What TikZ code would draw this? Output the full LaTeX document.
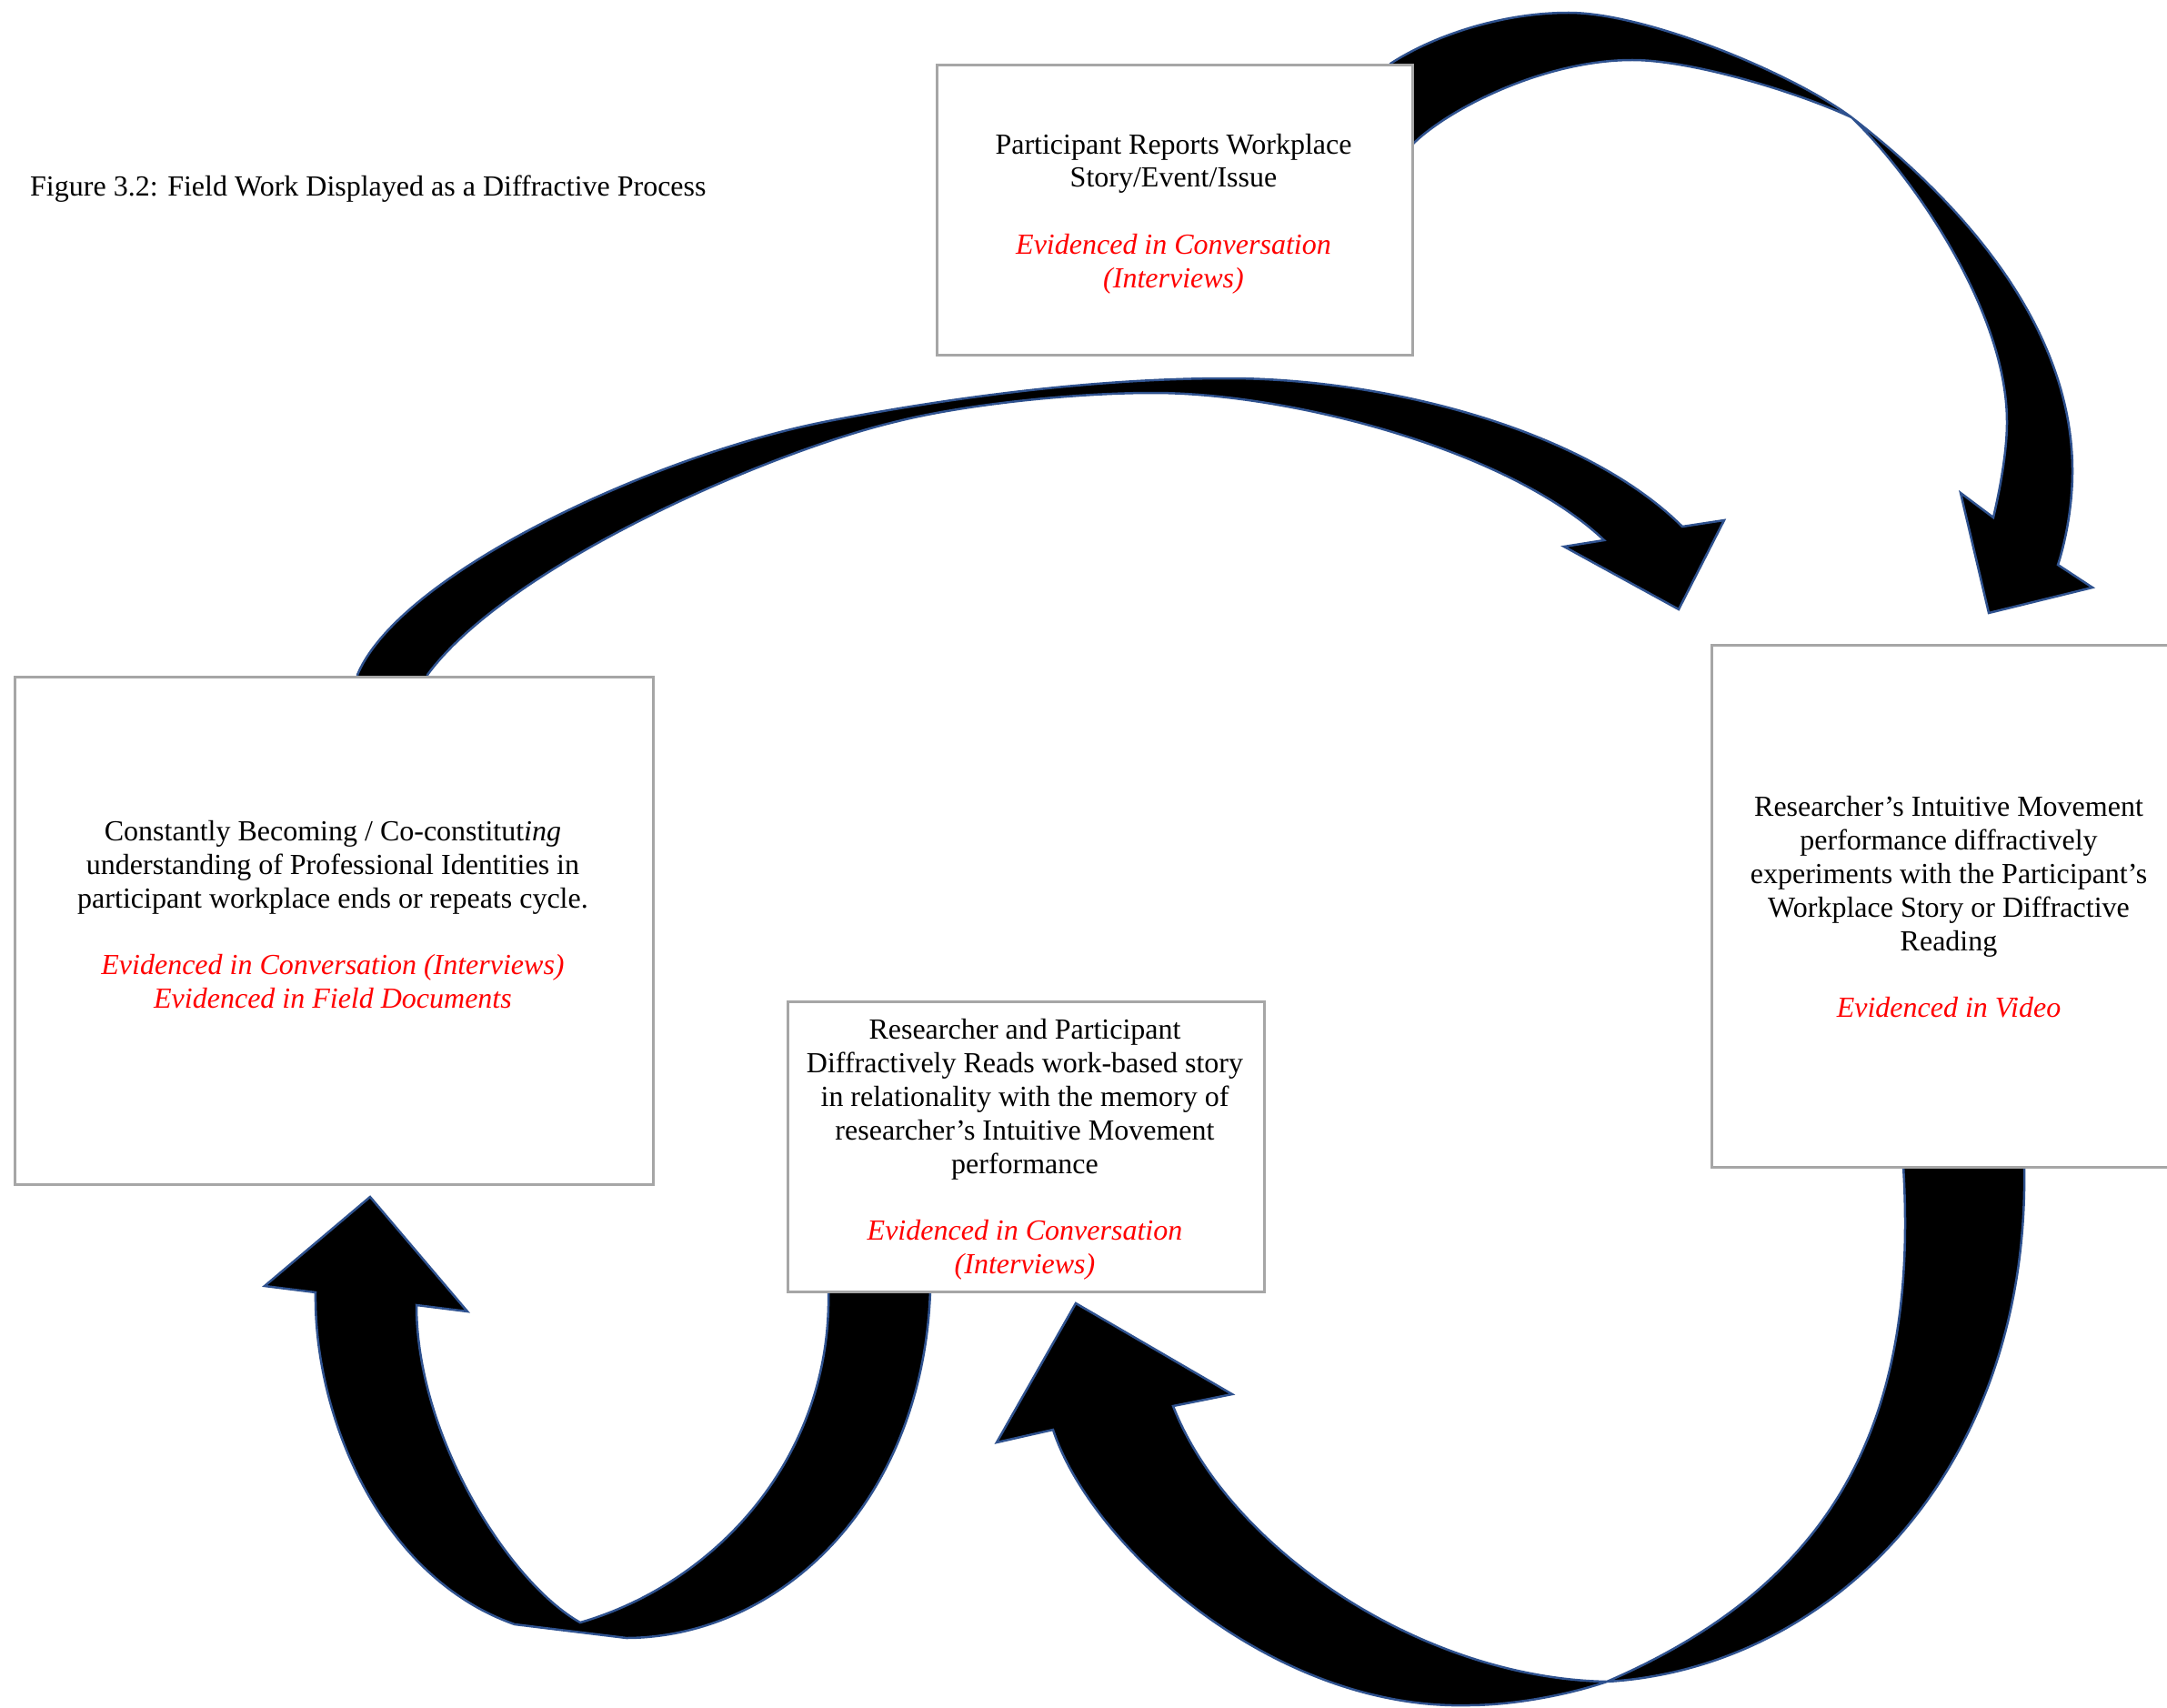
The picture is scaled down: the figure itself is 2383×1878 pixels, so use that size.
\documentclass[tikz,border=0pt]{standalone}
\usepackage{fontspec}
\setmainfont{Liberation Serif}
\definecolor{arrowedge}{RGB}{47,82,143}
\definecolor{boxedge}{RGB}{166,166,166}
\definecolor{evidred}{RGB}{255,0,0}
\newcommand{\evid}[1]{\textcolor{evidred}{\textit{#1}}}

\begin{document}
\begin{tikzpicture}[x=1pt,y=-1pt,
  flow/.style={fill=black, draw=arrowedge, line width=2.5pt, line join=miter},
  card/.style={draw=boxedge, line width=3pt, fill=white, rectangle, inner sep=0pt, anchor=north west},
  words/.style={align=center, font=\fontsize{32}{36.8}\selectfont, inner sep=0pt}]

\useasboundingbox (0,0) rectangle (2383,1878);

% --- curved block arrows (drawn first, boxes sit on top) ---
% top: report -> intuitive movement
\path[flow] (1529,70)
  .. controls (1575,40) and (1650,14) .. (1725,14)
  .. controls (1810,14) and (1970,80) .. (2036,129)
  .. controls (2160,225) and (2279,360) .. (2279,518)
  .. controls (2279,560) and (2270,600) .. (2263,621)
  -- (2301,646) -- (2187,674) -- (2156,542) -- (2192,569)
  .. controls (2200,535) and (2207,495) .. (2207,464)
  .. controls (2207,340) and (2100,190) .. (2036,129)
  .. controls (1976,101) and (1860,66) .. (1795,66)
  .. controls (1700,66) and (1595,118) .. (1554,158)
  -- (1520,150) -- cycle;

% long arc: becoming -> next cycle
\path[flow] (393,742)
  .. controls (440,630) and (720,500) .. (911,463)
  .. controls (1041,438) and (1200,416) .. (1350,416)
  .. controls (1520,416) and (1740,470) .. (1850,579)
  -- (1896,572) -- (1846,670) -- (1720,601) -- (1764,594)
  .. controls (1660,495) and (1420,432) .. (1268,432)
  .. controls (1180,432) and (1060,445) .. (988,463)
  .. controls (850,495) and (560,620) .. (470,742)
  -- (470,765) -- (393,765) -- cycle;

% bottom left: reading -> becoming
\path[flow] (1023,1419)
  .. controls (1015,1650) and (860,1800) .. (689,1801)
  -- (566,1786)
  .. controls (420,1735) and (345,1560) .. (347,1421)
  -- (291,1414) -- (407,1316) -- (514,1442) -- (458,1435)
  .. controls (458,1580) and (560,1740) .. (638,1784)
  .. controls (790,1740) and (915,1600) .. (911,1419)
  -- (911,1400) -- (1023,1400) -- cycle;

% bottom right: movement -> reading
\path[flow] (2226,1282)
  .. controls (2232,1620) and (2010,1835) .. (1767,1849)
  .. controls (1720,1865) and (1660,1875) .. (1614,1875)
  .. controls (1400,1880) and (1200,1700) .. (1158,1572)
  -- (1096,1586) -- (1183,1433) -- (1355,1533) -- (1290,1546)
  .. controls (1350,1700) and (1560,1845) .. (1767,1849)
  .. controls (2020,1740) and (2110,1560) .. (2093,1282)
  -- (2093,1265) -- (2226,1265) -- cycle;

% --- boxes ---
\node[card, minimum width=523pt, minimum height=319pt] (reportbox) at (1029,70) {};
\node[card, minimum width=702pt, minimum height=558pt] (becomebox) at (15,743) {};
\node[card, minimum width=524pt, minimum height=574pt] (movebox) at (1881,708) {};
\node[card, minimum width=524pt, minimum height=319pt] (readbox) at (865,1100) {};

% --- texts ---
\node[words, anchor=base west] (title) at (33,216) {Figure 3.2: Field Work Displayed as a Diffractive Process};

\node[words] (report) at (1290.5,235) {Participant Reports Workplace\\
  Story/Event/Issue\\[36.8pt]
  \evid{Evidenced in Conversation}\\
  \evid{(Interviews)}};

\node[words] (become) at (366,1005.5) {Constantly Becoming / Co-constitut\textit{ing}\\
  understanding of Professional Identities in\\
  participant workplace ends or repeats cycle.\\[36.8pt]
  \evid{Evidenced in Conversation (Interviews)}\\
  \evid{Evidenced in Field Documents}};

\node[words] (move) at (2143,997.5) {Researcher’s Intuitive Movement\\
  performance diffractively\\
  experiments with the Participant’s\\
  Workplace Story or Diffractive\\
  Reading\\[36.8pt]
  \evid{Evidenced in Video}};

\node[words] (read) at (1127,1264) {Researcher and Participant\\
  Diffractively Reads work-based story\\
  in relationality with the memory of\\
  researcher’s Intuitive Movement\\
  performance\\[36.8pt]
  \evid{Evidenced in Conversation}\\
  \evid{(Interviews)}};
\end{tikzpicture}
\end{document}
